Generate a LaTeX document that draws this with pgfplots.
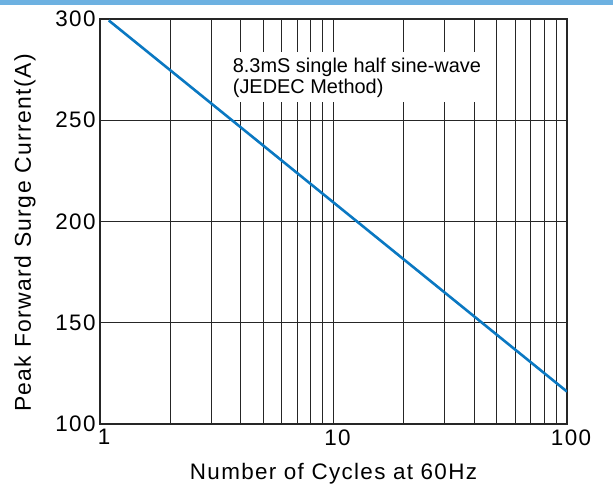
\documentclass[border=0pt]{standalone}
\usepackage{pgfplots}
\pgfplotsset{compat=1.18}
\usepackage{fontspec}
\setmainfont{Liberation Sans}
\newfontfamily\lsfont{Liberation Sans}[LetterSpace=6]
\definecolor{topbar}{HTML}{6DB1E1}
\definecolor{curve}{HTML}{0A78C2}
\begin{document}
\begin{tikzpicture}
\path[use as bounding box] (0,0) rectangle (613bp,484bp);
\fill[topbar] (0,479bp) rectangle (613bp,484bp);
\begin{axis}[
  at={(100bp,60bp)}, anchor=south west,
  scale only axis, width=467bp, height=405bp,
  xmode=log, log basis x=10,
  xmin=1, xmax=100, ymin=100, ymax=300,
  xtick={1,10,100}, xticklabels={1,10,100},
  minor xtick={2,3,4,5,6,7,8,9,20,30,40,50,60,70,80,90},
  ytick={100,150,200,250,300},
  yticklabels={100,150,200,250,300},
  xmajorgrids, xminorgrids, ymajorgrids,
  grid style={black!85, line width=0.9bp},
  minor grid style={black!85, line width=0.9bp},
  major tick length=0pt, minor tick length=0pt,
  axis line style={black!85, line width=2.4bp},
  tick label style={font=\lsfont\fontsize{22.5}{26}\selectfont},
  yticklabel style={xshift=-1bp},
  xticklabel style={yshift=-2bp, xshift=4bp},
  xlabel={Number of Cycles at 60Hz},
  ylabel={Peak Forward Surge Current(A)},
  xlabel style={font=\lsfont\fontsize{22.5}{26}\selectfont, at={(axis description cs:0.5,0)}, anchor=base, yshift=-55bp},
  ylabel style={font=\lsfont\fontsize{23}{27}\selectfont, at={(axis description cs:-0.1478,0.4716)}, anchor=base},
  clip=true,
]
\addplot[curve, line width=2.6bp] coordinates {(1.09,299.3) (100,116)};
\fill[white] (axis cs:3.12,283.7) rectangle (axis cs:44,259.2);
\node[anchor=base west, font=\fontsize{20}{24}\selectfont, inner sep=0pt] at (axis cs:3.7,273.8) {8.3mS single half sine-wave};
\node[anchor=base west, font=\fontsize{20}{24}\selectfont, inner sep=0pt] at (axis cs:3.7,263.0) {(JEDEC Method)};
\end{axis}
\end{tikzpicture}
\end{document}
